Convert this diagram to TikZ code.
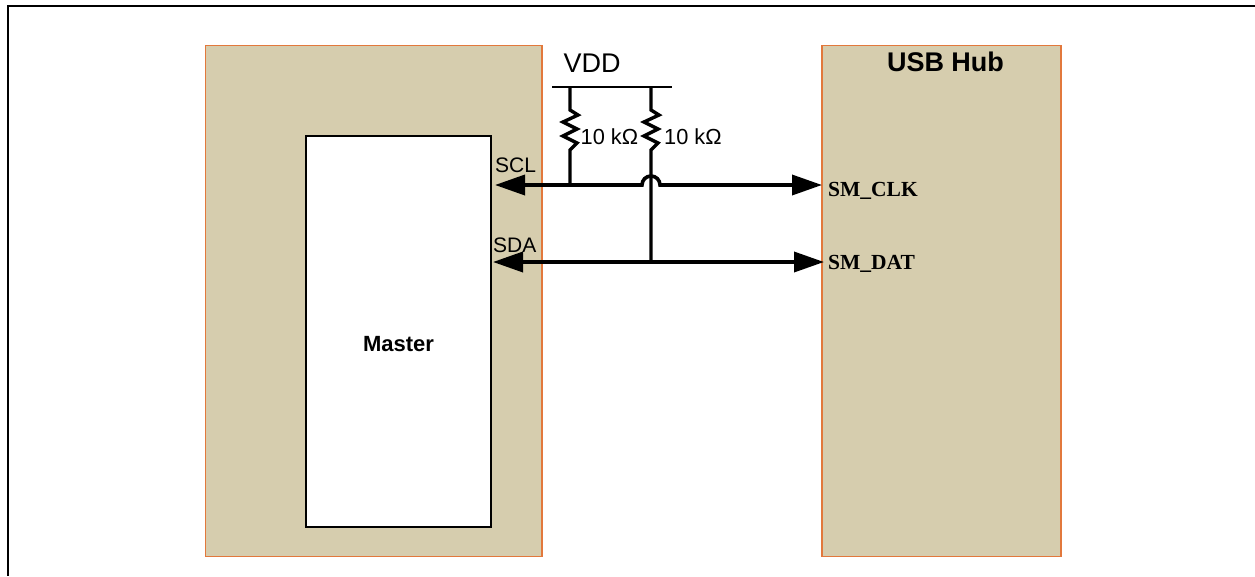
\documentclass[tikz,border=0pt]{standalone}
\usepackage{fontspec}
\setmainfont{Liberation Sans}
\newfontfamily\timesf{Liberation Serif}
\usetikzlibrary{arrows.meta}
\definecolor{boxfill}{RGB}{214,205,174}
\definecolor{boxedge}{RGB}{226,120,60}
\tikzset{
  x=1pt,y=-1pt,
  panel/.style={draw=boxedge,line width=1.3pt,fill=boxfill,anchor=north west,inner sep=0pt,outer sep=0pt,minimum width=#1,minimum height=511pt},
  wire/.style={line width=3.6pt,line join=miter},
  bus/.style={wire,{Triangle[length=30pt,width=20pt]}-{Triangle[length=30pt,width=20pt]},shorten <=-1pt,shorten >=-1pt},
  lab/.style={inner sep=0pt,anchor=base west,text=black},
  res/.style={line width=3.4pt,line join=miter}
}
\begin{document}
\begin{tikzpicture}
\useasboundingbox (0,0) rectangle (1255,576);
\fill[white] (0,0) rectangle (1255,576);
\coordinate (fa) at (1255,5.5);
\coordinate (fb) at (7.5,5.5);
\coordinate (fc) at (7.5,576);
\draw[line width=2pt] (fa) -- (fb) -- (fc);
\node[panel=336.5pt] (left) at (205.5,45.5) {};
\node[panel=239pt] (right) at (822,45.5) {};
\node[draw=black,line width=2pt,fill=white,anchor=north west,inner sep=0pt,outer sep=0pt,minimum width=185pt,minimum height=390.5pt] (master) at (306,136) {};
\node[lab,font=\bfseries\fontsize{22}{22}\selectfont,anchor=center] (mastertxt) at (398.5,344) {Master};
\node[lab,font=\bfseries\fontsize{27}{27}\selectfont,anchor=center] (hub) at (945.5,62) {USB Hub};
\node[lab,font=\fontsize{27}{27}\selectfont] (vdd) at (563.5,72) {VDD};
\coordinate (v1) at (552,87);
\coordinate (v2) at (672,87);
\draw[line width=2.8pt] (v1) -- (v2);
% resistors
\coordinate (r1t) at (570,87);
\coordinate (r2t) at (651,87);
\coordinate (r1b) at (570,185);
\coordinate (r2b) at (651,262);
\draw[res] (r1t) -- (570,110) -- (578,115) -- (563,122) -- (577,129) -- (563,136) -- (577,143) -- (570,150) -- (r1b);
\draw[res] (r2t) -- (651,110) -- (659,115) -- (644,122) -- (658,129) -- (644,136) -- (658,143) -- (651,150) -- (r2b);
\node[lab,font=\fontsize{21.8}{21.8}\selectfont] (rl1) at (580.5,144.5) {10 kΩ};
\node[lab,font=\fontsize{21.8}{21.8}\selectfont] (rl2) at (664,144.5) {10 kΩ};
\node[lab,font=\fontsize{21}{21}\selectfont] (scl) at (495,172.5) {SCL};
\node[lab,font=\fontsize{21}{21}\selectfont] (sda) at (493,252.5) {SDA};
\node[lab,font=\timesf\bfseries\fontsize{21.5}{21.5}\selectfont] (clk) at (828,196.5) {SM\_CLK};
\node[lab,font=\timesf\bfseries\fontsize{21.5}{21.5}\selectfont] (dat) at (828,269) {SM\_DAT};
% bus lines
\coordinate (cl) at (496,185);
\coordinate (cr) at (821,185);
\coordinate (dl) at (494,262);
\coordinate (dr) at (823,262);
\draw[bus] (cl) -- (642,185) arc[start angle=180,end angle=360,radius=9] -- (cr);
\draw[bus] (dl) -- (dr);
\end{tikzpicture}
\end{document}
